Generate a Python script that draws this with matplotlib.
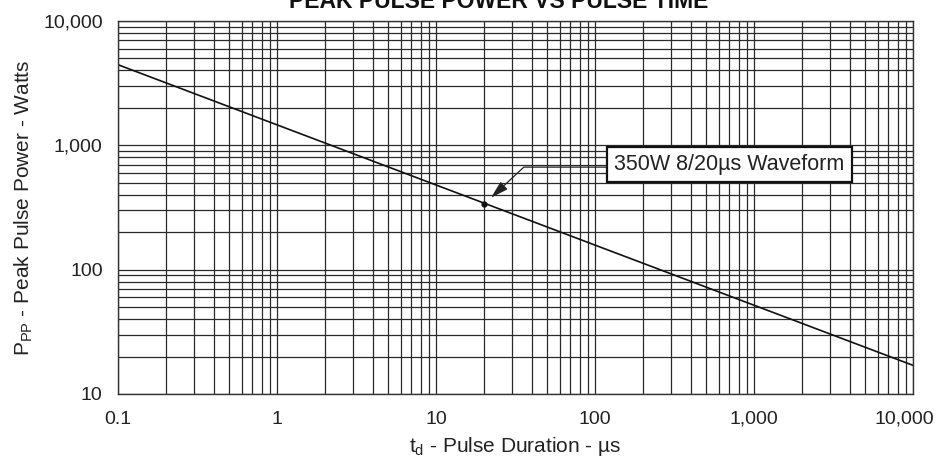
import matplotlib
matplotlib.use('Agg')
import matplotlib.pyplot as plt
from matplotlib.ticker import FixedLocator, LogLocator, NullFormatter
from matplotlib.transforms import ScaledTranslation

plt.rcParams['font.family'] = ['Liberation Sans', 'DejaVu Sans']
plt.rcParams['mathtext.default'] = 'regular'

# curve end points
pulse_us = [0.1, 10000]
power_w = [4450, 17]

# the marked 8/20us point
mark_us = [20]
mark_w = [335]
mark_label = '350W 8/20\u00b5s Waveform'

x_ticks = [0.1, 1, 10, 100, 1000, 10000]
x_labels = ['0.1', '1', '10', '100', '1,000', '10,000']
y_ticks = [10, 100, 1000, 10000]
y_labels = ['10', '100', '1,000', '10,000']

W, H = 940, 459
fig = plt.figure(figsize=(W / 100, H / 100), dpi=100)
ax = fig.add_axes([118 / W, 1 - 394 / H, (913 - 118) / W, (394 - 21) / H])

ax.set_xscale('log')
ax.set_yscale('log')
ax.set_xlim(0.1, 10000)
ax.set_ylim(10, 10000)

ax.xaxis.set_major_locator(FixedLocator(x_ticks))
ax.set_xticklabels(x_labels)
ax.yaxis.set_major_locator(FixedLocator(y_ticks))
ax.set_yticklabels(y_labels)
for axis in (ax.xaxis, ax.yaxis):
    axis.set_minor_locator(LogLocator(base=10, subs=range(2, 10), numticks=20))
    axis.set_minor_formatter(NullFormatter())

ax.tick_params(which='both', length=0, labelsize=14, colors='#222222')
ax.tick_params(axis='x', pad=12)
ax.tick_params(axis='y', pad=11)
# last x label sits a bit to the left so it fits in the page
last = ax.get_xticklabels()[-1]
last.set_transform(last.get_transform() + ScaledTranslation(-9 / 100, 0, fig.dpi_scale_trans))

ax.grid(True, which='both', color='#2a2a2a', lw=0.9)
for s in ax.spines.values():
    s.set_color('#333333')
    s.set_linewidth(1.0)

ax.plot(pulse_us, power_w, color='#111111', lw=1.2)
ax.plot(mark_us, mark_w, 'o', color='#111111', ms=3.5)

ax.annotate(mark_label, xy=(mark_us[0], mark_w[0]), xytext=(700, 700),
            ha='center', va='center', fontsize=15.5, color='#222222',
            bbox=dict(boxstyle='square,pad=0.33', fc='white', ec='#111111', lw=1.6),
            arrowprops=dict(arrowstyle='-|>,head_length=0.7,head_width=0.2',
                            color='#222222', lw=0.9, shrinkA=0, shrinkB=7,
                            relpos=(0.5, 0.38),
                            connectionstyle='angle,angleA=0,angleB=43,rad=0'))

ax.set_xlabel('t$_{d}$ - Pulse Duration - \u00b5s', fontsize=15, color='#222222', labelpad=5)
ax.set_ylabel('P$_{PP}$ - Peak Pulse Power - Watts', fontsize=15, color='#222222', labelpad=6)

fig.text(499 / W, 1 - 8 / H, 'PEAK PULSE POWER VS PULSE TIME', ha='center', va='baseline',
         fontsize=16.5, fontweight='bold', color='#111111')

fig.savefig('out.png', dpi=100)
